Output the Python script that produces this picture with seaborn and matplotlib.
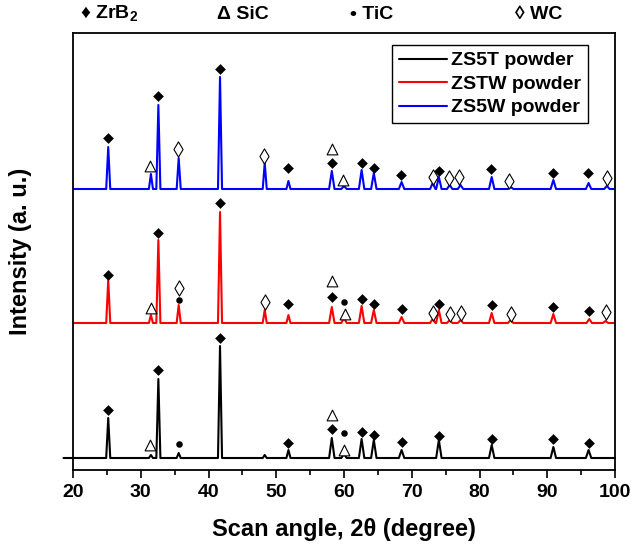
import numpy as np
import pandas as pd
import matplotlib
matplotlib.use('Agg')
import matplotlib.pyplot as plt
import seaborn as sns

# ── Data (intensity in arbitrary units) ──────────────────────────────────────
SAMPLES = ['ZS5T powder', 'ZSTW powder', 'ZS5W powder']
BASELINES = [12, 147, 281]

zs5t_pos = [25.2, 31.5, 32.6, 35.6, 41.7, 48.3, 51.8, 58.2, 60.0, 62.6, 64.4,
            68.5, 74.0, 81.8, 90.9, 96.1]
zs5t_hgt = [40, 3, 79, 5, 112, 3, 8, 20, 4, 19, 18, 8, 18, 13, 11, 8]

zstw_pos = [25.2, 31.5, 32.6, 35.6, 41.7, 48.3, 51.8, 58.2, 60.0, 62.6, 64.4,
            68.5, 73.1, 74.0, 75.6, 77.2, 81.8, 84.6, 90.9, 96.2, 98.6]
zstw_hgt = [43, 8, 83, 18, 111, 13, 8, 16, 5, 17, 13, 6, 4, 13, 3, 3, 10, 3,
            9, 4, 2]

zs5w_pos = [25.2, 31.5, 32.6, 35.6, 41.7, 48.3, 51.8, 58.2, 60.0, 62.6, 64.4,
            68.5, 73.1, 74.0, 75.6, 77.2, 81.8, 84.6, 90.9, 96.1, 98.8]
zs5w_hgt = [42, 15, 84, 31, 112, 26, 8, 18, 3, 19, 16, 7, 6, 12, 4, 4, 12, 2,
            9, 6, 3]

# phase markers: (2theta, intensity level) per pattern
zrb2_x = [[25.2, 32.6, 41.7, 51.8, 58.2, 62.6, 64.4, 68.5, 74.0, 81.8, 90.9, 96.1],
          [25.2, 32.6, 41.7, 51.8, 58.2, 62.6, 64.4, 68.5, 74.0, 81.8, 90.9, 96.2],
          [25.2, 32.6, 41.7, 51.8, 58.2, 62.6, 64.4, 68.4, 74.0, 81.7, 90.8, 96.0]]
zrb2_y = [[60, 100, 132, 27, 41, 38, 35, 28, 34, 31, 31, 27],
          [195, 237, 267, 166, 173, 171, 166, 161, 166, 165, 163, 159],
          [332, 374, 401, 302, 307, 307, 302, 295, 299, 301, 297, 297]]
sic_x = [[31.4, 58.2, 60.0], [31.5, 58.2, 60.2], [31.4, 58.2, 59.9]]
sic_y = [[25, 55, 20], [162, 189, 156], [304, 321, 290]]
tic_x = [[35.6, 60.0], [35.6, 60.0], []]
tic_y = [[26, 37], [170, 168], []]
wc_x = [[], [35.6, 48.3, 73.1, 75.6, 77.2, 84.6, 98.6],
        [35.5, 48.2, 73.1, 75.5, 77.0, 84.4, 98.8]]
wc_y = [[], [182, 168, 157, 156, 157, 156, 158],
        [321, 314, 293, 292, 293, 289, 292]]

# ── Styling ──────────────────────────────────────────────────────────────────
sns.set_theme(style='ticks')
plt.rcParams.update({'font.family': ['Liberation Sans', 'DejaVu Sans'],
                     'font.weight': 'bold',
                     'mathtext.fontset': 'custom',
                     'mathtext.rm': 'Liberation Sans',
                     'mathtext.bf': 'Liberation Sans:bold',
                     'axes.edgecolor': 'black',
                     'xtick.color': 'black',
                     'text.color': 'black',
                     'axes.labelcolor': 'black'})
PALETTE = {'ZS5T powder': '#000000', 'ZSTW powder': '#ff0000',
           'ZS5W powder': '#0000ff'}


def pattern_vertices(pos, hgt, base, start=20.0):
    # baseline -> apex -> baseline for each reflection
    xs, ys = [start], [base]
    for p, h in zip(pos, hgt):
        w = 0.3 if p < 55 else 0.4
        xs += [p - w, p, p + w]
        ys += [base, base + h, base]
    xs.append(100.0)
    ys.append(base)
    return xs, ys


rows = []
for name, base, pos, hgt, start in zip(SAMPLES, BASELINES,
                                       [zs5t_pos, zstw_pos, zs5w_pos],
                                       [zs5t_hgt, zstw_hgt, zs5w_hgt],
                                       [18.6, 20.0, 20.0]):
    xs, ys = pattern_vertices(pos, hgt, base, start)
    rows += [{'two_theta': x, 'intensity': y, 'sample': name}
             for x, y in zip(xs, ys)]
df = pd.DataFrame(rows)

fig = plt.figure(figsize=(6.32, 5.48), dpi=100)
ax = fig.add_axes([73 / 632, 78 / 548, 542 / 632, 437 / 548])

sns.lineplot(data=df, x='two_theta', y='intensity', hue='sample',
             hue_order=SAMPLES, palette=PALETTE, estimator=None, sort=False,
             linewidth=1.5, ax=ax)
ax.lines[0].set_clip_on(False)

for i in range(3):
    ax.scatter(zrb2_x[i], zrb2_y[i], marker='D', s=30, color='black',
               linewidths=0, zorder=4)
    ax.scatter(sic_x[i], sic_y[i], marker='^', s=60, facecolor='white',
               edgecolor='black', linewidths=0.8, zorder=4)
    if tic_x[i]:
        ax.scatter(tic_x[i], tic_y[i], marker='o', s=22, color='black',
                   linewidths=0, zorder=4)
    if wc_x[i]:
        ax.scatter(wc_x[i], wc_y[i], marker='d', s=60, facecolor='white',
                   edgecolor='black', linewidths=0.8, zorder=4)

# phase key above the frame
hdr = ax.get_xaxis_transform()
ax.text(21.0, 1.043, '♦ ZrB$_\\mathbf{2}$', transform=hdr, fontsize=14,
        ha='left', va='center')
ax.text(41.3, 1.043, 'Δ SiC', transform=hdr, fontsize=14, ha='left', va='center')
ax.text(60.9, 1.043, '• TiC', transform=hdr, fontsize=14, ha='left', va='center')
ax.text(85.2, 1.043, '◊ WC', transform=hdr, fontsize=14, ha='left', va='center')

ax.set_xlim(20, 100)
ax.set_ylim(0, 437)
ax.set_xticks(range(20, 101, 10))
ax.set_xticks(range(25, 100, 10), minor=True)
ax.set_yticks([])
ax.tick_params(axis='x', which='major', direction='out', length=6, width=1.2,
               labelsize=14, pad=4)
ax.tick_params(axis='x', which='minor', direction='out', length=3.5, width=1.2)
for sp in ax.spines.values():
    sp.set_linewidth(1.3)
    sp.set_color('black')

ax.set_xlabel('Scan angle, 2θ (degree)', fontsize=17, fontweight='bold',
              labelpad=12)
ax.set_ylabel('Intensity (a. u.)', fontsize=17, fontweight='bold')
ax.yaxis.set_label_coords(-0.076, 0.5)

handles, labels = ax.get_legend_handles_labels()
leg = ax.legend(handles, labels, loc='upper right',
                bbox_to_anchor=(0.950, 0.9725), frameon=True, fancybox=False,
                edgecolor='black', framealpha=1,
                prop={'weight': 'bold', 'size': 14}, handlelength=2.5,
                handletextpad=0.2, labelspacing=0.3, borderpad=0.35,
                borderaxespad=0)
leg.get_frame().set_linewidth(1.0)

fig.savefig('out.png', dpi=100)
